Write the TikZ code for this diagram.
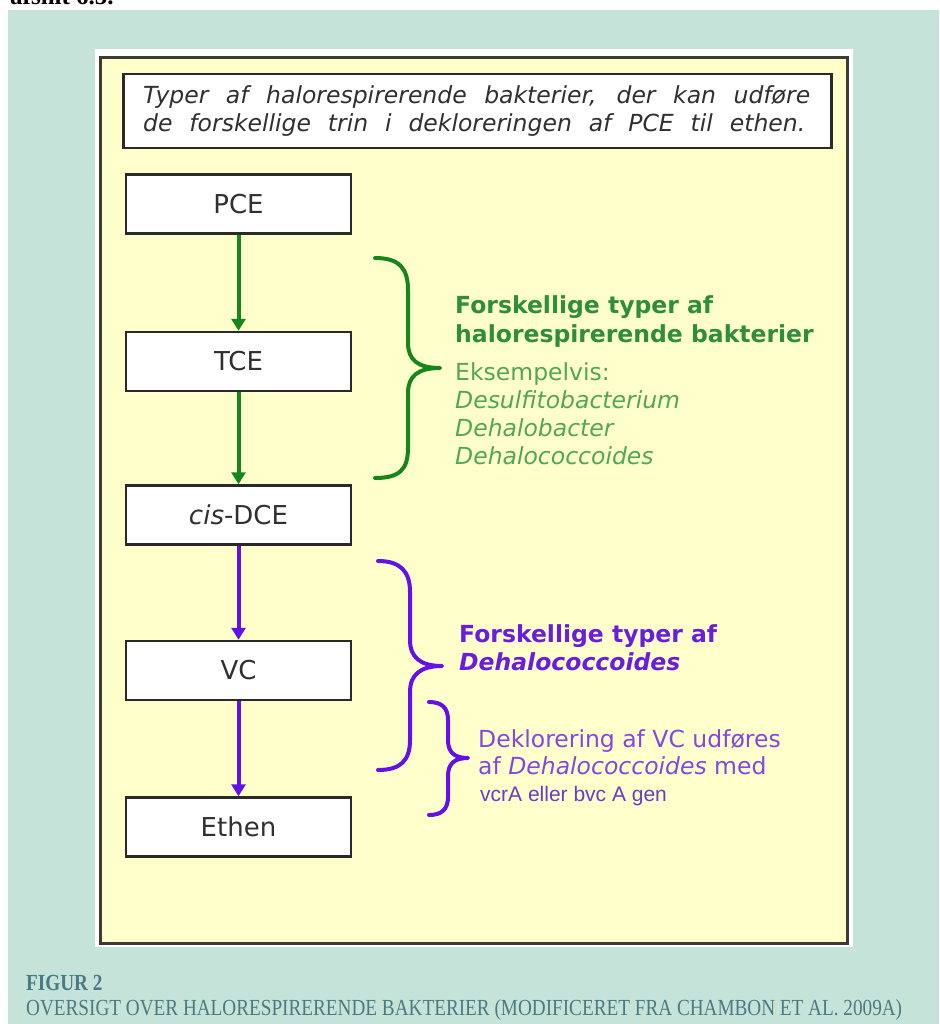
\documentclass[tikz,border=0pt]{standalone}
\usepackage{fontspec}
\setmainfont{DejaVu Sans}
\newfontfamily\capfont[FakeStretch=0.835]{Liberation Serif}
\newfontfamily\topfont{Liberation Serif}
\newfontfamily\smallfont{Liberation Sans}
\usetikzlibrary{arrows.meta}
\definecolor{pagebg}{HTML}{C6E3DA}
\definecolor{panelbg}{HTML}{FFFFCC}
\definecolor{panelline}{HTML}{3C3C34}
\definecolor{boxline}{HTML}{2A2A2A}
\definecolor{boxtext}{HTML}{303030}
\definecolor{gline}{HTML}{17861A}
\definecolor{gbold}{HTML}{2E8E3C}
\definecolor{glight}{HTML}{52A852}
\definecolor{pline}{HTML}{6410E8}
\definecolor{pbold}{HTML}{6A1EDC}
\definecolor{plight}{HTML}{8448E0}
\definecolor{psmall}{HTML}{6A3CC8}
\definecolor{captxt}{HTML}{4B7B82}
\newcommand\bsz{\fontsize{23.5}{28}\selectfont}
\tikzset{
  stepbox/.style={draw=boxline, fill=white, line width=2.5pt, minimum width=225pt, minimum height=59pt, inner sep=0pt, text=boxtext, font=\fontsize{26}{30}\selectfont},
  txt/.style={anchor=base west, inner sep=0pt},
  garrow/.style={draw=gline, line width=4pt, -{Triangle[width=14pt,length=12pt]}},
  parrow/.style={draw=pline, line width=4pt, -{Triangle[width=14pt,length=12pt]}},
  gbrace/.style={draw=gline, line width=4pt, line cap=round, line join=round},
  pbrace/.style={draw=pline, line width=4pt, line cap=round, line join=round},
}
\begin{document}
\begin{tikzpicture}[x=1pt,y=-1pt]
\useasboundingbox (0,0) rectangle (939,1024);
\fill[white] (0,0) rectangle (939,1024);
\fill[pagebg] (8,10) rectangle (939,1024);
\node[txt, font=\topfont\bfseries\fontsize{25}{30}\selectfont] (toptext) at (10,5) {afsnit 6.5.};
% panel
\fill[white] (95,49) rectangle (853,947);
\draw[fill=panelbg, draw=panelline, line width=3pt] (100,58) rectangle (847,943);
% title box
\node[draw=boxline, fill=white, line width=2.5pt, minimum width=708pt, minimum height=74pt, inner sep=0pt, anchor=north west] (titlebox) at (122,73) {};
\node[txt, font=\itshape\fontsize{23.5}{28}\selectfont, text=boxtext] (title1) at (143,104) {\makebox[667pt][s]{Typer af halorespirerende bakterier, der kan udføre}};
\node[txt, font=\itshape\fontsize{23.5}{28}\selectfont, text=boxtext] (title2) at (143,132) {\makebox[662pt][s]{de forskellige trin i dekloreringen af PCE til ethen.}};
% steps
\node[stepbox] (pce) at (238.5,204) {PCE};
\node[stepbox] (tce) at (238.5,361.5) {TCE};
\node[stepbox] (dce) at (238.5,515) {\textit{cis}-DCE};
\node[stepbox] (vc) at (238.5,670.5) {VC};
\node[stepbox] (eth) at (238.5,827) {Ethen};
\draw[garrow] (pce.south) -- (tce.north);
\draw[garrow] (tce.south) -- (dce.north);
\draw[parrow] (dce.south) -- (vc.north);
\draw[parrow] (vc.south) -- (eth.north);
% green brace
\draw[gbrace] (375,258) .. controls (399,258) and (408,268) .. (408,290) -- (408,343)
  .. controls (408,360) and (418,368) .. (440,368)
  .. controls (418,368) and (408,376) .. (408,393) -- (408,448)
  .. controls (408,470) and (399,478) .. (375,478);
% purple brace big
\draw[pbrace] (378,561) .. controls (400,561) and (410,571) .. (410,592) -- (410,640)
  .. controls (410,657) and (420,666) .. (442,666)
  .. controls (420,666) and (410,675) .. (410,692) -- (410,740)
  .. controls (410,761) and (400,770) .. (378,770);
% purple brace small
\draw[pbrace] (429,702) .. controls (442,702) and (448,708) .. (448,720) -- (448,740)
  .. controls (448,752) and (454,758) .. (468,758)
  .. controls (454,758) and (448,764) .. (448,776) -- (448,797)
  .. controls (448,809) and (442,815) .. (429,815);
% green texts
\node[txt, font=\bsz\bfseries, text=gbold] (g1) at (455,313) {Forskellige typer af};
\node[txt, font=\bsz\bfseries, text=gbold] (g2) at (455,342) {halorespirerende bakterier};
\node[txt, font=\bsz, text=glight] (g3) at (455,380) {Eksempelvis:};
\node[txt, font=\bsz\itshape, text=glight] (g4) at (455,408) {Desulfitobacterium};
\node[txt, font=\bsz\itshape, text=glight] (g5) at (455,436) {Dehalobacter};
\node[txt, font=\bsz\itshape, text=glight] (g6) at (455,464) {Dehalococcoides};
% purple texts
\node[txt, font=\bsz\bfseries, text=pbold] (p1) at (459,642) {Forskellige typer af};
\node[txt, font=\bsz\bfseries\itshape, text=pbold] (p2) at (459,670) {Dehalococcoides};
\node[txt, font=\bsz, text=plight] (p3) at (478,747) {Deklorering af VC udføres};
\node[txt, font=\bsz, text=plight] (p4) at (478,774) {af \textit{Dehalococcoides} med};
\node[txt, font=\smallfont\fontsize{21}{24}\selectfont, text=psmall] (p5) at (480,801) {vcrA eller bvc A gen};
% caption
\node[txt, font=\capfont\bfseries\fontsize{23}{27}\selectfont, text=captxt] (cap1) at (26,990) {FIGUR 2};
\node[txt, font=\capfont\fontsize{23}{27}\selectfont, text=captxt] (cap2) at (26,1015) {OVERSIGT OVER HALORESPIRERENDE BAKTERIER (MODIFICERET FRA CHAMBON ET AL. 2009A)};
\end{tikzpicture}
\end{document}
